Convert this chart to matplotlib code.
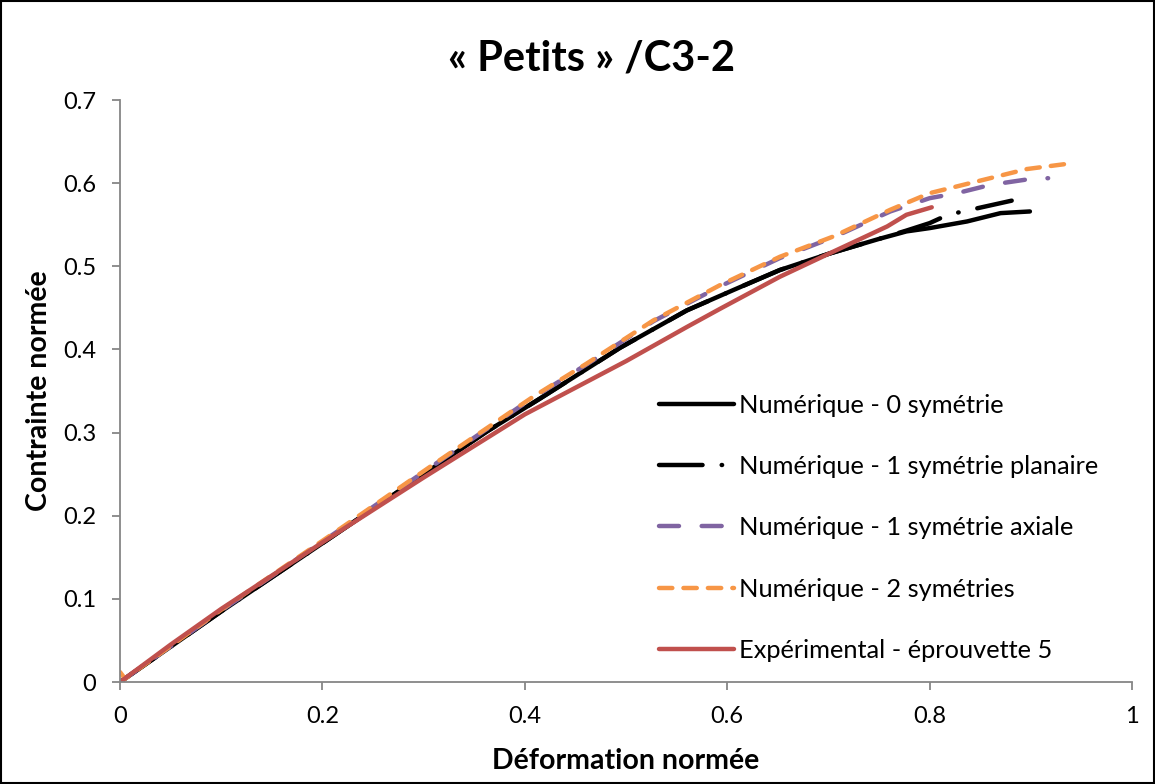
import numpy as np
import matplotlib
matplotlib.use('Agg')
import matplotlib.pyplot as plt
from matplotlib.patches import Rectangle

plt.rcParams['font.family'] = ['Lato', 'DejaVu Sans']

# Données
x_num0 = [0, 0.1, 0.2, 0.3, 0.362, 0.415, 0.494, 0.56, 0.606, 0.652, 0.7, 0.75, 0.777, 0.8, 0.837, 0.87, 0.899]
y_num0 = [0, 0.085, 0.167, 0.25, 0.301, 0.341, 0.402, 0.447, 0.4715, 0.4956, 0.515, 0.533, 0.542, 0.546, 0.554, 0.564, 0.566]

x_plan = [0, 0.1, 0.2, 0.3, 0.362, 0.415, 0.494, 0.56, 0.606, 0.652, 0.7, 0.75, 0.777, 0.8, 0.818, 0.881]
y_plan = [0, 0.085, 0.167, 0.25, 0.301, 0.341, 0.402, 0.447, 0.4715, 0.4956, 0.515, 0.533, 0.543, 0.552, 0.562, 0.579]

x_axial = [0, 0.1, 0.211, 0.316, 0.408, 0.461, 0.527, 0.593, 0.652, 0.705, 0.761, 0.8, 0.827, 0.86, 0.899, 0.917]
y_axial = [0, 0.086, 0.178, 0.266, 0.342, 0.382, 0.434, 0.476, 0.510, 0.535, 0.566, 0.582, 0.588, 0.598, 0.605, 0.606]

x_2sym = [0, 0.005, 0.1, 0.211, 0.316, 0.408, 0.461, 0.527, 0.593, 0.652, 0.705, 0.761, 0.8, 0.853, 0.896, 0.934]
y_2sym = [0.012, 0.004, 0.087, 0.179, 0.267, 0.343, 0.383, 0.435, 0.4775, 0.5115, 0.536, 0.568, 0.588, 0.604, 0.617, 0.623]

x_exp = [0, 0.05, 0.1, 0.2, 0.3, 0.4, 0.45, 0.5, 0.56, 0.593, 0.652, 0.7, 0.758, 0.777, 0.802]
y_exp = [0, 0.045, 0.088, 0.168, 0.246, 0.322, 0.354, 0.386, 0.427, 0.449, 0.4875, 0.515, 0.548, 0.562, 0.571]

labels = ['Numérique - 0 symétrie', 'Numérique - 1 symétrie planaire',
          'Numérique - 1 symétrie axiale', 'Numérique - 2 symétries',
          'Expérimental - éprouvette 5']

fig = plt.figure(figsize=(11.55, 7.84), dpi=100)
ax = fig.add_axes([0.1039, 0.130, 0.8763, 0.7424])

lw = 3.2
ax.plot(x_num0, y_num0, color='black', lw=lw, solid_capstyle='round', label=labels[0])
ax.plot(x_plan, y_plan, color='black', lw=lw, dashes=(9.8, 4.3, 0.1, 4.3),
        dash_capstyle='round', label=labels[1])
ax.plot(x_axial, y_axial, color='#8064a2', lw=lw, dashes=(4.5, 5.1),
        dash_capstyle='round', label=labels[2])
ax.plot(x_2sym, y_2sym, color='#f79646', lw=lw, dashes=(3.0, 2.5),
        dash_capstyle='round', label=labels[3])
ax.plot(x_exp, y_exp, color='#c0504d', lw=lw, solid_capstyle='round', label=labels[4])

ax.set_xlim(0, 1)
ax.set_ylim(0, 0.7)
ax.set_xticks([0, 0.2, 0.4, 0.6, 0.8, 1])
ax.set_xticklabels(['0', '0.2', '0.4', '0.6', '0.8', '1'])
ax.set_yticks([0, 0.1, 0.2, 0.3, 0.4, 0.5, 0.6, 0.7])
ax.set_yticklabels(['0', '0.1', '0.2', '0.3', '0.4', '0.5', '0.6', '0.7'])

for s in ['top', 'right']:
    ax.spines[s].set_visible(False)
for s in ['left', 'bottom']:
    ax.spines[s].set_color('#868686')
    ax.spines[s].set_linewidth(1.3)
ax.tick_params(direction='out', length=6, width=1.3, color='#868686',
               labelsize=17, pad=11)

fig.text(0.5125, 0.926, '« Petits » /C3-2', fontsize=30, fontweight='bold',
         ha='center', va='center')
ax.set_xlabel('Déformation normée', fontsize=20.5, fontweight='bold', labelpad=15)
ax.set_ylabel('Contrainte normée', fontsize=20.5, fontweight='bold', labelpad=8)

ax.legend(loc='upper left', bbox_to_anchor=(0.51, 0.534), frameon=False,
          fontsize=18.3, handlelength=2.95, handletextpad=0.2, labelspacing=1.5)

fig.patches.append(Rectangle((0.001, 0.001), 0.998, 0.998, transform=fig.transFigure,
                             fill=False, edgecolor='black', lw=1.5))

fig.savefig('out.png', dpi=100)
